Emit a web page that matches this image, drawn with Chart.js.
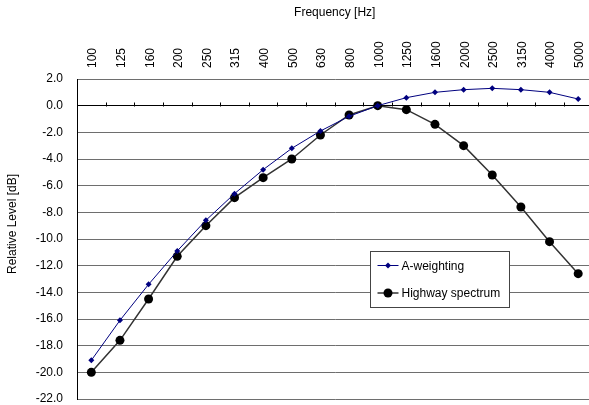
<!DOCTYPE html>
<html>
<head>
<meta charset="utf-8">
<script src="https://cdn.jsdelivr.net/npm/chart.js@4/dist/chart.umd.min.js"></script>
<style>
  html, body { margin: 0; padding: 0; background: #fff; overflow: hidden; }
  #wrap { position: relative; width: 597px; height: 405px; }
</style>
</head>
<body>
<div id="wrap"><canvas id="chart"></canvas></div>
<script>
// frequency bands (Hz)
const frequencies = ['100', '125', '160', '200', '250', '315', '400', '500', '630',
  '800', '1000', '1250', '1600', '2000', '2500', '3150', '4000', '5000'];
// relative levels, dB
const aWeighting = [-19.1, -16.1, -13.4, -10.9, -8.6, -6.6, -4.8, -3.2, -1.9,
  -0.8, 0.0, 0.6, 1.0, 1.2, 1.3, 1.2, 1.0, 0.5];
const highwaySpectrum = [-20.0, -17.6, -14.5, -11.3, -9.0, -6.9, -5.4, -4.0, -2.2,
  -0.7, 0.0, -0.3, -1.4, -3.0, -5.2, -7.6, -10.2, -12.6];
const yTicks = [2, 0, -2, -4, -6, -8, -10, -12, -14, -16, -18, -20, -22];

const FONT = 'Liberation Sans, Arial, sans-serif';

// small tick marks on the zero line, between categories
const zeroTicks = {
  id: 'zeroTicks',
  afterDatasetsDraw(chart) {
    const { ctx } = chart;
    const x = chart.scales.x, y = chart.scales.y;
    const y0 = Math.round(y.getPixelForValue(0)) + 0.5;
    ctx.save();
    ctx.strokeStyle = '#000';
    ctx.lineWidth = 1;
    ctx.beginPath();
    for (let i = 0; i < frequencies.length - 1; i++) {
      const px = Math.round((x.getPixelForValue(i) + x.getPixelForValue(i + 1)) / 2) + 0.5;
      ctx.moveTo(px, y0);
      ctx.lineTo(px, y0 - 4);
    }
    ctx.stroke();
    ctx.restore();
  }
};

// y axis title, sitting a bit above the middle like the original
const yTitle = {
  id: 'yTitle',
  afterDraw(chart) {
    const { ctx } = chart;
    ctx.save();
    ctx.translate(13, 224);
    ctx.rotate(-Math.PI / 2);
    ctx.font = '12px ' + FONT;
    ctx.fillStyle = '#000';
    ctx.textAlign = 'center';
    ctx.textBaseline = 'middle';
    ctx.fillText('Relative Level [dB]', 0, 0);
    ctx.restore();
  }
};

// boxed legend inside the plot
const boxLegend = {
  id: 'boxLegend',
  afterDraw(chart) {
    const { ctx } = chart;
    const bx = 370.5, by = 251.5, bw = 139, bh = 56;
    ctx.save();
    ctx.fillStyle = '#fff';
    ctx.fillRect(bx, by, bw, bh);
    ctx.strokeStyle = '#444';
    ctx.lineWidth = 1;
    ctx.strokeRect(bx, by, bw, bh);
    ctx.font = '12px ' + FONT;
    ctx.textBaseline = 'middle';
    chart.data.datasets.forEach((ds, i) => {
      const ly = by + 14 + i * 27.5;
      ctx.strokeStyle = ds.borderColor;
      ctx.lineWidth = ds.borderWidth;
      ctx.beginPath();
      ctx.moveTo(bx + 7, ly);
      ctx.lineTo(bx + 28, ly);
      ctx.stroke();
      ctx.fillStyle = ds.pointBackgroundColor;
      ctx.beginPath();
      if (ds.pointStyle === 'rectRot') {
        const r = ds.pointRadius;
        ctx.moveTo(bx + 17.5, ly - r);
        ctx.lineTo(bx + 17.5 + r, ly);
        ctx.lineTo(bx + 17.5, ly + r);
        ctx.lineTo(bx + 17.5 - r, ly);
        ctx.closePath();
      } else {
        ctx.arc(bx + 17.5, ly, ds.pointRadius, 0, Math.PI * 2);
      }
      ctx.fill();
      ctx.fillStyle = '#000';
      ctx.fillText(ds.label, bx + 31, ly + 1);
    });
    ctx.restore();
  }
};

new Chart(document.getElementById('chart'), {
  type: 'line',
  data: {
    labels: frequencies,
    datasets: [
      {
        label: 'A-weighting',
        data: aWeighting,
        borderColor: '#00007f',
        backgroundColor: '#00007f',
        pointBackgroundColor: '#00007f',
        pointBorderColor: '#00007f',
        borderWidth: 1,
        pointStyle: 'rectRot',
        pointRadius: 3,
        pointBorderWidth: 0,
        tension: 0
      },
      {
        label: 'Highway spectrum',
        data: highwaySpectrum,
        borderColor: '#333333',
        backgroundColor: '#000',
        pointBackgroundColor: '#000',
        pointBorderColor: '#000',
        borderWidth: 1.5,
        pointStyle: 'circle',
        pointRadius: 4.5,
        pointBorderWidth: 0,
        tension: 0
      }
    ]
  },
  options: {
    responsive: true,
    maintainAspectRatio: false,
    animation: false,
    layout: { padding: { left: 0, right: 0, top: 1, bottom: 6 } },
    plugins: {
      legend: { display: false },
      title: { display: false },
      tooltip: { enabled: false }
    },
    scales: {
      x: {
        position: 'top',
        offset: true,
        afterFit(scale) { scale.height = 78; },
        grid: { display: false, drawTicks: false },
        border: { display: false },
        ticks: {
          autoSkip: false,
          maxRotation: 90,
          minRotation: 90,
          padding: 11,
          labelOffset: 16,
          color: '#000',
          font: { family: FONT, size: 12 }
        },
        title: {
          display: true,
          text: 'Frequency [Hz]',
          color: '#000',
          font: { family: FONT, size: 12 },
          padding: { top: 4, bottom: 0 }
        }
      },
      y: {
        min: -22,
        max: 2,
        afterFit(scale) {
          scale.width = 77;
          scale.paddingTop = 0;
          scale.paddingBottom = 0;
        },
        afterBuildTicks(scale) { scale.ticks = yTicks.map(v => ({ value: v })); },
        grid: {
          drawTicks: false,
          color: ctx => (ctx.tick && ctx.tick.value === 0) ? '#000' : '#6e6e6e',
          lineWidth: 1
        },
        border: { display: true, color: '#000', width: 1 },
        ticks: {
          padding: 14,
          color: '#000',
          font: { family: FONT, size: 12 },
          callback: v => v.toFixed(1)
        },
        title: { display: false }
      }
    }
  },
  plugins: [zeroTicks, yTitle, boxLegend]
});
</script>
</body>
</html>
